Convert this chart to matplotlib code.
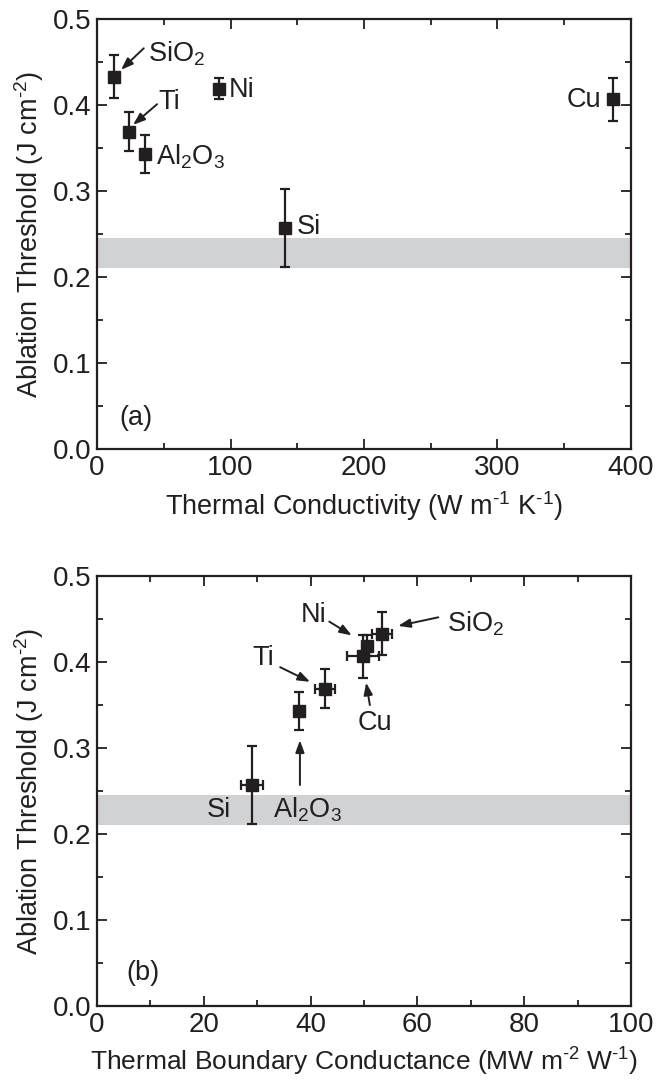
import numpy as np
import matplotlib.pyplot as plt
from matplotlib.ticker import MultipleLocator

plt.rcParams['font.family'] = ['Liberation Sans', 'DejaVu Sans']
plt.rcParams['mathtext.default'] = 'regular'
plt.rcParams['mathtext.fontset'] = 'custom'
plt.rcParams['mathtext.rm'] = 'Liberation Sans'

# %%
# Data
materials = ["SiO2", "Ni", "Ti", "Al2O3", "Si", "Cu"]
threshold = [0.433, 0.419, 0.369, 0.343, 0.257, 0.407]
threshold_err = [0.025, 0.0125, 0.023, 0.022, 0.045, 0.025]
conductivity = [12.7, 91.4, 24, 36, 141, 386.5]
tbc = [53.4, 50.5, 42.7, 37.8, 29, 49.8]
tbc_err = [1.9, 0.0, 1.8, 0.0, 2.0, 3.0]
band_lo, band_hi = 0.21, 0.245

HY = "\u2010"  # plain hyphen in superscripts, like the original

# %%
fig = plt.figure(figsize=(6.6, 10.83), dpi=100)
axA = fig.add_axes([0.147, 0.5854, 0.809, 0.397])
axB = fig.add_axes([0.147, 0.0711, 0.809, 0.397])

def style(ax, xmax, xmajor):
  ax.set_xlim(0, xmax)
  ax.set_ylim(0, 0.5)
  ax.axhspan(band_lo, band_hi, color="#d1d2d4", lw=0, zorder=0)
  ax.xaxis.set_major_locator(MultipleLocator(xmajor))
  ax.xaxis.set_minor_locator(MultipleLocator(xmajor / 2))
  ax.yaxis.set_major_locator(MultipleLocator(0.1))
  ax.yaxis.set_minor_locator(MultipleLocator(0.05))
  ax.yaxis.set_major_formatter(plt.FormatStrFormatter("%.1f"))
  ax.tick_params(which="both", direction="in", top=True, right=True,
                 width=1.3, labelsize=20, pad=4, colors="#231f20")
  ax.tick_params(which="major", length=7)
  ax.tick_params(which="minor", length=4)
  for s in ax.spines.values():
    s.set_linewidth(1.6)
    s.set_color("#231f20")
  ax.set_ylabel(f"Ablation Threshold (J cm$^{{{HY}2}}$)", fontsize=19.5,
                color="#231f20", labelpad=5)

ebkw = dict(fmt="s", color="#231f20", ms=8.5, elinewidth=1.6,
            capsize=3.5, capthick=1.6, zorder=3)
tkw = dict(fontsize=19.5, color="#231f20")
akw = dict(arrowstyle="-|>,head_length=0.6,head_width=0.22",
           mutation_scale=12, color="#231f20", lw=1.4, shrinkA=0, shrinkB=0)

def arrow(ax, start, end):
  ax.annotate("", xy=end, xytext=start, arrowprops=akw)

# %%
# Panel (a)
style(axA, 400, 100)
axA.errorbar(conductivity, threshold, yerr=threshold_err, ls="none", **ebkw)
axA.set_xlabel(f"Thermal Conductivity (W m$^{{{HY}1}}$ K$^{{{HY}1}}$)",
               fontsize=19.5, color="#231f20", labelpad=6)
axA.text(38, 0.460, "SiO$_2$", va="center", ha="left", **tkw)
arrow(axA, (35, 0.466), (18, 0.441))
axA.text(46, 0.404, "Ti", va="center", ha="left", **tkw)
arrow(axA, (45, 0.401), (27, 0.377))
axA.text(99, 0.417, "Ni", va="center", ha="left", **tkw)
axA.text(44, 0.340, "Al$_2$O$_3$", va="center", ha="left", **tkw)
axA.text(150, 0.258, "Si", va="center", ha="left", **tkw)
axA.text(378, 0.406, "Cu", va="center", ha="right", **tkw)
axA.text(17, 0.036, "(a)", va="center", ha="left", **tkw)

# %%
# Panel (b)
style(axB, 100, 20)
axB.errorbar(tbc, threshold, xerr=tbc_err, yerr=threshold_err, ls="none", **ebkw)
axB.set_xlabel(f"Thermal Boundary Conductance (MW m$^{{{HY}2}}$ W$^{{{HY}1}}$)",
               fontsize=19, color="#231f20", labelpad=6)
axB.text(43, 0.455, "Ni", va="center", ha="right", **tkw)
arrow(axB, (43.5, 0.447), (47.7, 0.431))
axB.text(33.2, 0.405, "Ti", va="center", ha="right", **tkw)
arrow(axB, (34.3, 0.394), (39.9, 0.377))
axB.text(52, 0.329, "Cu", va="center", ha="center", **tkw)
arrow(axB, (51.1, 0.350), (50.4, 0.376))
axB.text(65.5, 0.445, "SiO$_2$", va="center", ha="left", **tkw)
arrow(axB, (63.9, 0.452), (56.4, 0.442))
arrow(axB, (38, 0.257), (38, 0.309))
axB.text(33, 0.228, "Al$_2$O$_3$", va="center", ha="left", **tkw)
axB.text(25, 0.228, "Si", va="center", ha="right", **tkw)
axB.text(5.5, 0.038, "(b)", va="center", ha="left", **tkw)

fig.savefig("out.png", dpi=100)
